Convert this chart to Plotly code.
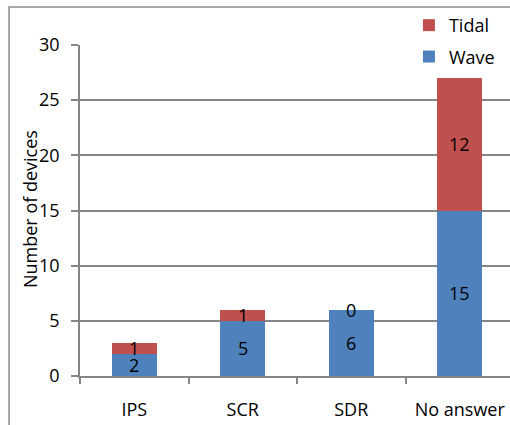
import plotly.graph_objects as go

# Device counts by category, split into wave and tidal devices
categories = ["IPS", "SCR", "SDR", "No answer"]
wave = [2, 5, 6, 15]
tidal = [1, 1, 0, 12]

WAVE_COLOR = "#4F81BD"
TIDAL_COLOR = "#C0504D"
GRID = "#868686"
FONT = "'Open Sans', Calibri, 'Liberation Sans', sans-serif"
SIZE = 18

fig = go.Figure()
fig.add_trace(go.Bar(name="Wave", x=categories, y=wave, legendgroup="wave", legendrank=2,
                     marker=dict(color=WAVE_COLOR, line=dict(width=0))))
fig.add_trace(go.Bar(name="Tidal", x=categories, y=tidal, legendgroup="tidal", legendrank=1,
                     marker=dict(color=TIDAL_COLOR, line=dict(width=0))))

# Value labels centred on each stacked segment
annotations = []
for cat, w, t in zip(categories, wave, tidal):
    annotations.append(dict(x=cat, y=w / 2, text=str(w), showarrow=False,
                            font=dict(size=SIZE, color="#000000", family=FONT)))
    annotations.append(dict(x=cat, y=w + t / 2, text=str(t), showarrow=False,
                            font=dict(size=SIZE, color="#000000", family=FONT)))

# Vertical axis title
annotations.append(dict(xref="paper", yref="paper", x=-0.1163, y=0.5045,
                        text="Number of devices", textangle=-90, showarrow=False,
                        xanchor="center", yanchor="middle",
                        font=dict(size=SIZE, color="#000000", family=FONT)))

fig.update_layout(
    width=510, height=425,
    margin=dict(l=80, r=0, t=45, b=49),
    barmode="stack",
    bargap=0.585,
    plot_bgcolor="white",
    paper_bgcolor="white",
    font=dict(family=FONT, size=SIZE, color="#000000"),
    showlegend=True,
    legend=dict(traceorder="grouped", x=0.765, y=1.115,
                xanchor="left", yanchor="top",
                font=dict(size=SIZE), bgcolor="rgba(0,0,0,0)",
                tracegroupgap=5),
    annotations=annotations,
    shapes=[dict(type="rect", xref="paper", yref="paper",
                 x0=-0.165, x1=1.2, y0=-0.4, y1=1.1148,
                 line=dict(color="#8C8C8C", width=1.5), fillcolor="rgba(0,0,0,0)",
                 layer="below")],
)

fig.update_xaxes(
    type="category", range=[-0.5, 3.463],
    showline=True, linecolor=GRID, linewidth=1.5,
    ticks="outside", tickson="boundaries", ticklen=6, tickcolor=GRID, tickwidth=1.5,
    ticklabelstandoff=17, tickfont=dict(size=SIZE),
    showgrid=False, zeroline=False,
)
fig.update_yaxes(
    range=[0, 30], dtick=5,
    showline=True, linecolor=GRID, linewidth=1.5,
    ticks="outside", ticklen=7, tickcolor=GRID, tickwidth=1.5,
    ticklabelstandoff=8, tickfont=dict(size=SIZE),
    showgrid=True, gridcolor=GRID, gridwidth=1.5, zeroline=False,
)

fig.write_html("out.html")
